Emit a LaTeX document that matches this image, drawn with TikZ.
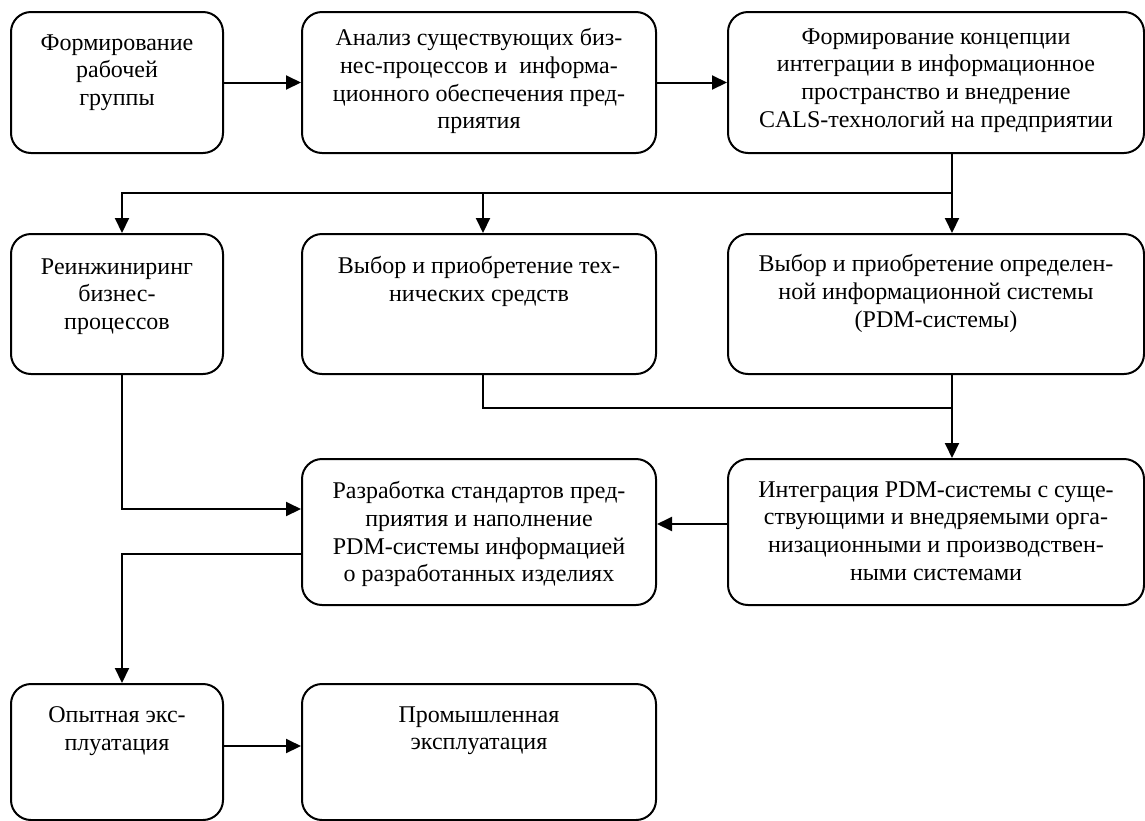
\documentclass[tikz,border=0pt]{standalone}
\usepackage{fontspec}
\setmainfont{Liberation Serif}
\usetikzlibrary{arrows.meta,positioning,calc}
\tikzset{
	blk/.style={draw,rounded corners=20pt,line width=2pt,anchor=north west,inner sep=0pt},
	txt/.style={anchor=north,align=center,font=\fontsize{24}{27.7}\selectfont},
	arr/.style={-{Triangle[length=15pt,width=14pt]},line width=2pt},
	lin/.style={line width=2pt}
}
\begin{document}
\begin{tikzpicture}[x=1pt,y=-1pt]
	\useasboundingbox (0,0) rectangle (1145,820);
	\foreach \n/\x/\y/\w/\h/\dy/\tx in {
		b1/10/11/212/141/20/{Формирование\\рабочей\\группы},
		b2/301/11/354/141/14/{Анализ существующих биз-\\нес-процессов и\ \ информа-\\ционного обеспечения пред-\\приятия},
		b3/727/11/416/141/14/{Формирование концепции\\интеграции в информационное\\пространство и внедрение\\CALS-технологий на предприятии},
		b4/10/233/212/140/22/{Реинжиниринг\\бизнес-\\процессов},
		b5/301/233/354/140/20/{Выбор и приобретение тех-\\нических средств},
		b6/727/233/416/140/18/{Выбор и приобретение определен-\\ной информационной системы\\(PDM-системы)},
		b7/301/458/354/146/20/{Разработка стандартов пред-\\приятия и наполнение\\PDM-системы информацией\\о разработанных изделиях},
		b8/727/458/416/146/20/{Интеграция PDM-системы с суще-\\ствующими и внедряемыми орга-\\низационными и производствен-\\ными системами},
		b9/10/683/212/136/20/{Опытная экс-\\плуатация},
		b10/301/683/354/136/20/{Промышленная\\эксплуатация}}
		\node[blk,minimum width=\w pt,minimum height=\h pt,label={[txt,yshift=-\dy pt]north:{\tx}}] (\n) at (\x,\y) {};
	% branch points
	\coordinate (cA) at (122,193);
	\coordinate (cB) at (483,193);
	\coordinate (cC) at (952,193);
	\coordinate (dA) at (122,509);
	\coordinate (dB) at (483,408);
	\draw[arr] (b1.east) -- (b2.west);
	\draw[arr] (b2.east) -- (b3.west);
	\draw[arr] (b3.south -| cC) -- (b6.north -| cC);
	\draw[arr] (cC) -| (b4.north -| cA);
	\draw[arr] (cB) -- (b5.north -| cB);
	\draw[arr] (b4.south -| cA) |- (b7.west |- dA);
	\draw[lin] (b5.south -| dB) |- (dB -| cC);
	\draw[arr] (b6.south -| cC) -- (b8.north -| cC);
	\draw[arr] ([yshift=8pt]b8.west) -- ([yshift=8pt]b7.east);
	\draw[arr] ([yshift=-22pt]b7.west) -| (b9.north -| cA);
	\draw[arr] ([yshift=6pt]b9.east) -- ([yshift=6pt]b10.west);
\end{tikzpicture}
\end{document}
